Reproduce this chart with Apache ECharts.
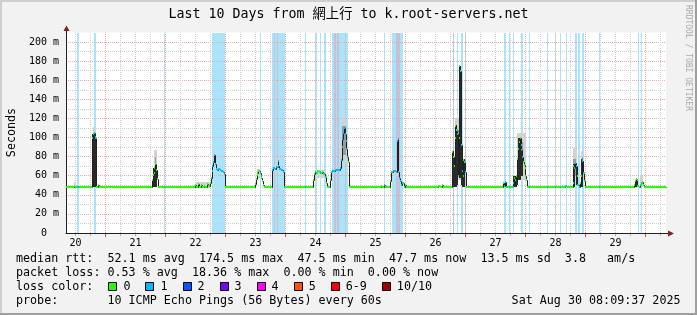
<!DOCTYPE html>
<html><head><meta charset="utf-8">
<script src="https://cdn.jsdelivr.net/npm/echarts@6/dist/echarts.min.js"></script>
<style>html,body{margin:0;padding:0;background:#f2f2f2}#c{width:697px;height:315px}</style>
</head><body><div id="c"></div>
<script>
// time axis: hours since Aug 20 00:00
const T_START = 8.16, T_END = 248.16, Y_MAX = 210;
const titleText = 'Last 10 Days from 網上行 to k.root-servers.net';
const dayLabels = ['20','21','22','23','24','25','26','27','28','29'];
const dayNoon = [12,36,60,84,108,132,156,180,204,228];
const gridMajor = [24,48,72,96,120,144,168,192,216,240];
const gridMinor = [12,18,30,36,42,54,60,66,78,84,90,102,108,114,126,132,138,150,156,162,174,180,186,198,204,210,222,228,234,246];

// median rtt (ms), step values starting at each time
const medianTime = [8.16,11.72,12.12,12.52,18.84,19.16,19.48,19.80,20.12,20.44,21.16,21.48,
 42.76,43.08,43.40,43.72,44.04,44.36,44.68,45.00,
 60.12,60.52,61.12,61.72,62.32,62.92,63.52,64.12,64.72,65.32,65.92,66.32,66.64,66.96,67.28,67.60,67.92,68.24,68.56,69.32,69.92,70.52,71.12,71.60,71.92,
 83.92,84.24,84.56,84.88,85.20,85.52,85.84,86.16,86.48,86.80,87.12,87.44,
 90.72,91.32,91.92,92.52,93.00,93.32,93.72,94.52,95.12,95.72,
 107.24,107.56,107.88,108.32,108.92,109.52,110.12,110.72,111.32,111.92,112.40,112.92,113.92,114.32,114.92,116.12,117.32,117.92,118.24,118.56,118.88,119.20,119.52,119.84,120.16,120.48,120.80,121.12,121.40,
 134.32,134.92,135.52,136.12,136.72,138.12,138.52,139.32,140.32,140.64,140.96,141.28,141.72,142.12,142.52,142.92,143.52,143.92,144.24,
 157.32,158.12,158.72,159.12,
 162.84,163.16,163.48,163.80,164.12,164.44,164.76,165.08,165.40,165.72,166.04,166.36,166.68,167.00,167.32,167.64,167.96,168.28,
 183.12,183.52,183.92,184.32,184.72,
 187.32,187.72,188.12,188.52,188.92,189.24,189.56,189.88,190.20,190.52,190.84,191.16,191.48,191.80,192.12,192.44,192.76,
 208.12,208.72,
 211.00,211.32,211.64,211.96,212.28,212.60,212.92,213.52,213.92,214.24,214.56,214.88,215.20,215.52,215.92,
 235.64,235.96,236.28,236.60,236.92,237.52,238.12,238.52,238.92,239.32,239.72,248.16];
const medianRtt = [47.7,49,48.5,47.7,100,104,105,101,99,47.7,50.5,47.7,
 55,61,63,68,72,66,57,47.7,
 50,48,51,48,50.5,48,49.5,48.5,51,49.5,52,58,65,70,74,82,72,67,66,67,66,65,64,62,47.7,
 51,57,61,63,65,64.5,63,60,58,54,50,47.7,
 66,68,67,69,75,70,67,66,64,47.7,
 56,62,64,63,65,64,63,64,62,59,52,47.7,55,64,65,66,65.5,68,76,90,98,105,110,104,96,88,80,74,47.7,
 49.5,48,50,48.5,47.7,54,64,64.5,64,96,98,64,58,54,50,52,47.7,50,47.7,
 49.5,48,50.5,47.7,
 85,80,70,100,112,108,104,60,100,174.5,170,92,65,60,76,74,64,47.7,
 52,49,53,48,47.7,
 52,58,56,60,77,88,95,100,92,87,80,74,71,68,60,55,47.7,
 49.5,47.7,
 52,70,68,73,70,60,50,48.5,52,60,78,75,63,54,47.7,
 50,54,57,55,49,48,50,52.5,53,50,47.7,47.7];

// periods with packet loss (1/10), hours
const lossBands = [[12.92,13.44],[19.72,20.40],[47.44,48.00],[66.92,72.00],[86.12,86.52],[90.92,96.00],[104.00,104.40],[107.92,108.72],[109.92,110.52],[111.52,112.32],[114.72,121.32],[135.52,136.12],[138.80,143.32],[164.72,165.32],[166.52,167.04],[167.92,168.32],[183.72,184.52],[185.52,185.92],[187.12,187.72],[190.40,191.32],[193.72,194.12],[200.72,201.20],[203.92,204.32],[206.00,206.52],[208.32,208.80],[212.00,212.64],[213.32,214.12],[214.80,215.44],[221.52,222.00],[237.04,237.52],[238.24,238.72]];
const lossGrey = [[91.52,92.12],[92.72,93.32],[115.52,116.52],[116.92,117.72],[140.32,141.92],[163.32,163.72]];

// smoke [t0, t1, low ms, high ms]
const smokeLight = [[11.72,12.52,47,53],[19.16,19.80,100,111],[43.72,44.68,62,87],[60.52,65.92,47,53],[67.28,67.92,70,86],[84.56,86.48,58,67],[92.52,93.72,64,80],[107.88,112.40,58,66],[117.92,118.56,68,95],[118.56,120.48,75,123],[120.48,121.12,70,100],[139.32,141.28,60,68],[163.80,166.68,55,120],[188.92,192.44,55,105],[211.32,212.60,58,89],[214.24,215.52,55,86],[235.96,236.92,47,57],[238.12,239.32,48,61]];
const smokeMid = [[44.04,44.36,68,80],[118.56,120.48,82,112],[164.12,166.36,62,108],[189.24,191.16,62,95],[211.32,212.28,60,78],[214.56,215.20,60,80]];
const smokeDark = [[18.84,20.44,47.7,104],[43.08,44.68,48,68],[162.84,163.48,47.7,86],[163.48,163.80,47.7,72],[163.80,164.76,47.7,113],[164.76,165.08,50,104],[165.40,166.36,58,174.5],[166.36,166.68,50,92],[166.68,167.32,47.7,65],[167.32,167.96,47.7,78],[187.32,188.92,47.7,60],[188.92,189.24,50,78],[189.24,190.52,55,100],[190.52,191.16,60,87],[211.00,211.96,48,72],[212.28,212.60,50,72],[214.24,215.20,48,78],[235.96,236.92,48,56]];

const legendRows = [
 'median rtt:  52.1 ms avg  174.5 ms max  47.5 ms min  47.7 ms now  13.5 ms sd  3.8   am/s',
 'packet loss: 0.53 % avg  18.36 % max  0.00 % min  0.00 % now'
];
const lossLabels = ['0','1','2','3','4','5','6-9','10/10'];
const lossColors = ['#26ff00','#00b8ff','#0059ff','#7e00ff','#ff00ff','#ff5500','#ff0000','#a10000'];
const probeText = 'probe:       10 ICMP Echo Pings (56 Bytes) every 60s';
const dateText = 'Sat Aug 30 08:09:37 2025';
const watermark = 'RRDTOOL / TOBI OETIKER';

const FONT = "'DejaVu Sans Mono', 'Noto Sans CJK TC', monospace";
const CW = 7.05;

// build colored median segments split at loss boundaries
const medianSegs = [];
const stepLines = [];
for (let i = 0; i < medianTime.length - 1; i++) {
  const a = medianTime[i], b = medianTime[i+1], v = medianRtt[i];
  stepLines.push([a, v, b, medianRtt[i+1]]);
  const cuts = [a, b];
  lossBands.forEach(([s,e]) => { if (s > a && s < b) cuts.push(s); if (e > a && e < b) cuts.push(e); });
  cuts.sort((x,y) => x-y);
  for (let k = 0; k < cuts.length-1; k++) {
    const m = (cuts[k]+cuts[k+1])/2;
    const lost = lossBands.some(([s,e]) => m >= s && m <= e);
    medianSegs.push([cuts[k], cuts[k+1], v, lost ? 1 : 0]);
  }
}

function rectFrom(api, t0, t1, lo, hi) {
  const p0 = api.coord([t0, hi]), p1 = api.coord([t1, lo]);
  const x0 = Math.floor(p0[0]), x1 = Math.max(x0+1, Math.floor(p1[0]));
  const y0 = Math.round(p0[1]), y1 = Math.max(y0+1, Math.round(p1[1]));
  return {x:x0, y:y0, width:x1-x0, height:y1-y0};
}
function bandRender(color) {
  return (params, api) => ({type:'rect', shape: rectFrom(api, api.value(0), api.value(1), 0, Y_MAX), style:{fill:color}, silent:true});
}
function smokeRender(color) {
  return (params, api) => ({type:'rect', shape: rectFrom(api, api.value(0), api.value(1), api.value(2), api.value(3)), style:{fill:color}, silent:true});
}
function vgridRender(color, tickColor, tickLen) {
  return (params, api) => {
    const p0 = api.coord([api.value(0), 0]), p1 = api.coord([api.value(0), Y_MAX]);
    const x = Math.floor(p0[0]) + 0.5;
    return {type:'group', children:[
      {type:'line', shape:{x1:x, y1:p0[1], x2:x, y2:p1[1]}, style:{stroke:color, lineWidth:1, lineDash:[1,1]}, silent:true},
      {type:'line', shape:{x1:x, y1:Math.round(p0[1])+1, x2:x, y2:Math.round(p0[1])+1+tickLen}, style:{stroke:tickColor, lineWidth:1}, silent:true}
    ]};
  };
}
function stepRender(params, api) {
  const a = api.coord([api.value(0), api.value(1)]), b = api.coord([api.value(2), api.value(3)]);
  const xa = Math.floor(a[0]) + 0.5, xb = Math.floor(b[0]) + 0.5;
  const ya = Math.round(a[1]) + 0.5, yb = Math.round(b[1]) + 0.5;
  return {type:'polyline', shape:{points:[[xa,ya],[xb,ya],[xb,yb]]}, style:{stroke:'#202020', lineWidth:1, fill:null}, silent:true};
}
function medianRender(params, api) {
  const p0 = api.coord([api.value(0), api.value(2)]), p1 = api.coord([api.value(1), api.value(2)]);
  const x0 = Math.floor(p0[0]), x1 = Math.max(x0+1, Math.floor(p1[0]));
  const y = Math.round(p0[1]) - 1;
  return {type:'rect', shape:{x:x0, y:y, width:x1-x0, height:2}, style:{fill: lossColors[api.value(3)]}, silent:true};
}

const graphics = [];
// frame
graphics.push({type:'rect', shape:{x:0,y:0,width:697,height:2}, style:{fill:'#cfcfcf'}, silent:true});
graphics.push({type:'rect', shape:{x:0,y:0,width:2,height:315}, style:{fill:'#cfcfcf'}, silent:true});
graphics.push({type:'rect', shape:{x:0,y:313,width:697,height:2}, style:{fill:'#9e9e9e'}, silent:true});
graphics.push({type:'rect', shape:{x:695,y:0,width:2,height:315}, style:{fill:'#9e9e9e'}, silent:true});
function txt(x, y, s, size, opts) {
  return Object.assign({type:'text', x:x, y:y, silent:true, style:{text:s, fontFamily:FONT, fontSize:size, fill:'#000',
    align:'left', verticalAlign:'middle', textAlign:'left', textVerticalAlign:'middle'}}, opts || {});
}
const t = txt(348.5, 15, titleText, 13.3);
t.style.align = t.style.textAlign = 'center';
graphics.push(t);
const sec = txt(11.5, 132.5, 'Seconds', 11.7, {rotation: Math.PI/2});
sec.style.align = sec.style.textAlign = 'center';
graphics.push(sec);
const wm = txt(688.5, 5, watermark, 8, {rotation: -Math.PI/2});
wm.style.fill = '#a8a8a8';
graphics.push(wm);
// arrows
graphics.push({type:'line', shape:{x1:666, y1:233.5, x2:669, y2:233.5}, style:{stroke:'#202020', lineWidth:1}, silent:true, z:10});
graphics.push({type:'polygon', shape:{points:[[668,230.5],[668,236.5],[674,233.5]]}, style:{fill:'#7f1f1f'}, silent:true, z:10});
graphics.push({type:'line', shape:{x1:66.5, y1:33, x2:66.5, y2:30}, style:{stroke:'#202020', lineWidth:1}, silent:true, z:10});
graphics.push({type:'polygon', shape:{points:[[63.5,31],[69.5,31],[66.5,25.5]]}, style:{fill:'#7f1f1f'}, silent:true, z:10});
// legend
const rowY = [258.8, 272.6, 286.6, 300.6];
legendRows.forEach((s, i) => graphics.push(txt(16, rowY[i], s, 11.7)));
graphics.push(txt(16, rowY[2], 'loss color:', 11.7));
let bx = 108.4;
lossLabels.forEach((lab, i) => {
  graphics.push({type:'rect', shape:{x:Math.round(bx)+0.5, y:282.5, width:8, height:8}, style:{fill:lossColors[i], stroke:'#000', lineWidth:1}, silent:true});
  graphics.push(txt(bx + 15, rowY[2], lab, 11.7));
  bx += 15 + lab.length*CW + 15;
});
graphics.push(txt(16, rowY[3], probeText, 11.7));
const dt = txt(680.5, rowY[3], dateText, 11.7);
dt.style.align = dt.style.textAlign = 'right';
graphics.push(dt);

const chart = echarts.init(document.getElementById('c'), null, {renderer:'canvas'});
chart.setOption({
  animation: false,
  backgroundColor: '#f2f2f2',
  grid: {left: 66, right: 31, top: 32.5, bottom: 82, show: true, backgroundColor: '#ffffff', borderWidth: 0, containLabel: false},
  xAxis: {type:'value', min:T_START, max:T_END, z:2,
    axisLine:{show:true, onZero:false, lineStyle:{color:'#202020', width:1}},
    axisTick:{show:false}, splitLine:{show:false},
    axisLabel:{customValues: dayNoon, formatter: v => { const k = dayNoon.indexOf(v); return k >= 0 ? dayLabels[k] : ''; },
      fontFamily: FONT, fontSize: 10, color:'#000', margin: 5, showMinLabel:true, showMaxLabel:true, hideOverlap:false}},
  yAxis: {type:'value', min:0, max:Y_MAX, interval:10, z:2,
    axisLine:{show:true, lineStyle:{color:'#202020', width:1}}, axisTick:{show:false},
    axisLabel:{formatter: v => (v % 20 === 0 ? (v === 0 ? '0  ' : v + ' m') : ''), fontFamily: FONT, fontSize: 10, color:'#000', margin: 7},
    splitLine:{show:true, showMaxLine:false, lineStyle:{color:['#e8a6a6','#cccccc'], type:[1,1], width:1}}},
  graphic: {elements: graphics},
  series: [
    {type:'custom', z:1, data: lossBands, renderItem: bandRender('#aae4fa'), clip:false},
    {type:'custom', z:1.1, data: lossGrey, renderItem: bandRender('#c4c0d6'), clip:false},
    {type:'custom', z:2.1, data: gridMinor.map(v => [v, 0]), renderItem: vgridRender('#cccccc', '#b0b0b0', 2), clip:false},
    {type:'custom', z:2.2, data: gridMajor.map(v => [v, 0]), renderItem: vgridRender('#e8a6a6', '#d05050', 3), clip:false},
    {type:'custom', z:3, data: smokeLight, renderItem: smokeRender('#d2d2d2'), clip:false},
    {type:'custom', z:3.1, data: smokeMid, renderItem: smokeRender('#9a9a9a'), clip:false},
    {type:'custom', z:3.2, data: smokeDark, renderItem: smokeRender('#2a2a2a'), clip:false},
    {type:'custom', z:4, data: stepLines, renderItem: stepRender, clip:false},
    {type:'custom', z:5, data: medianSegs, renderItem: medianRender, clip:false}
  ]
});
</script>
</body></html>
